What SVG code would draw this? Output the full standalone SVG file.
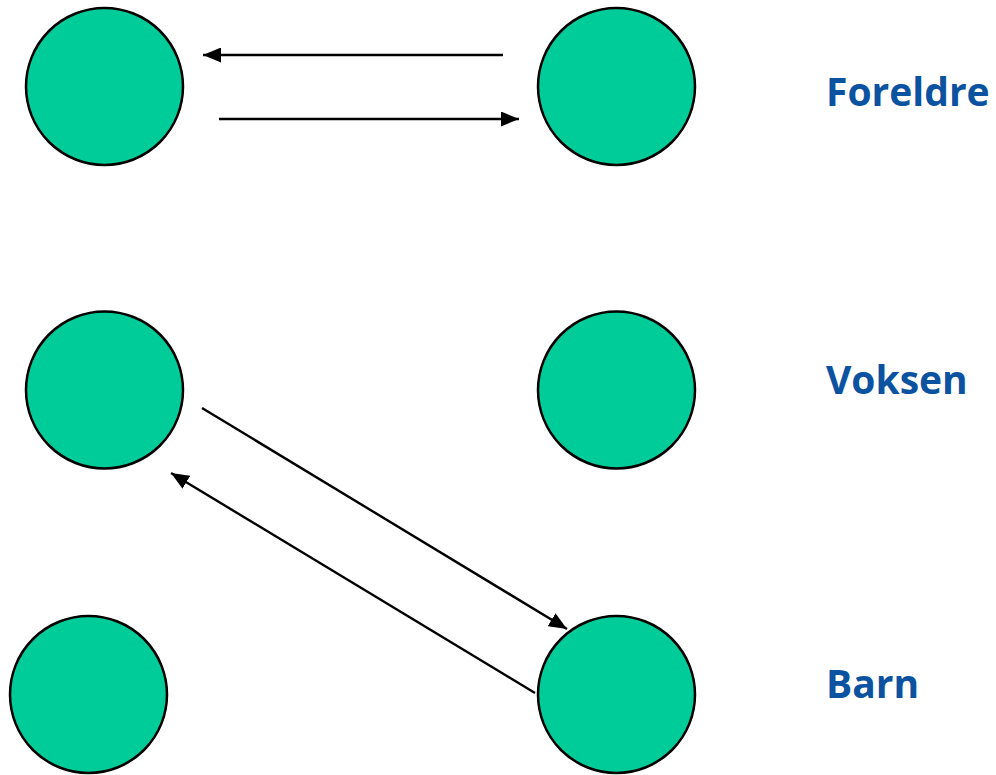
<svg xmlns="http://www.w3.org/2000/svg" width="996" height="775" viewBox="0 0 996 775">
<defs>
<style>
.node{fill:#00CC99;stroke:#000;stroke-width:2.5}
.lbl{font-family:"Open Sans","Liberation Sans",sans-serif;font-weight:bold;font-size:39px;fill:#0B52A0}
</style>
<marker id="ahb" viewBox="0 0 18 15" refX="18" refY="7.5" markerWidth="18" markerHeight="15" markerUnits="userSpaceOnUse" orient="auto">
<path d="M0,0 L18,7.5 L0,15 z" fill="#000"/>
</marker>
</defs>
<rect width="996" height="775" fill="#fff"/>
<g id="n1"><circle class="node" cx="104.5" cy="86.5" r="78.5"/></g>
<g id="n2"><circle class="node" cx="616.5" cy="86.5" r="78.5"/></g>
<g id="n3"><circle class="node" cx="104.5" cy="390" r="78.5"/></g>
<g id="n4"><circle class="node" cx="616.5" cy="390" r="78.5"/></g>
<g id="n5"><circle class="node" cx="88.5" cy="694.5" r="78.5"/></g>
<g id="n6"><circle class="node" cx="616.5" cy="694.5" r="78.5"/></g>
<g id="labels">
<text class="lbl" x="826" y="106">Foreldre</text>
<text class="lbl" x="826" y="394">Voksen</text>
<text class="lbl" x="826" y="698">Barn</text>
</g>
<g id="connectors" stroke="#000" stroke-width="2.4" fill="none">
<line x1="503" y1="55" x2="203" y2="55" marker-end="url(#ahb)"/>
<line x1="219" y1="119" x2="519" y2="119" marker-end="url(#ahb)"/>
<line x1="202" y1="408" x2="567" y2="629" marker-end="url(#ahb)"/>
<line x1="535" y1="693" x2="171" y2="473" marker-end="url(#ahb)"/>
</g>
</svg>
